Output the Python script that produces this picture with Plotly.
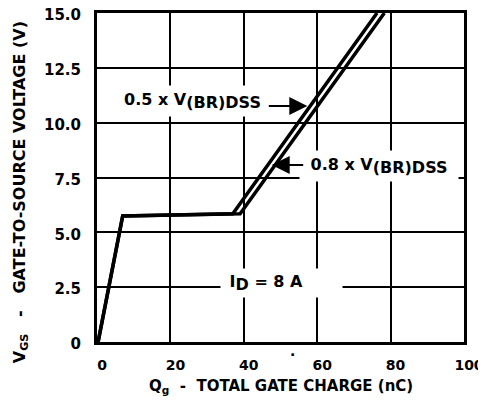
import plotly.graph_objects as go

# Data
q_05 = [0.3, 7.0, 37.0, 76.3]
v_05 = [0.0, 5.75, 5.85, 15.0]
q_08 = [0.3, 7.0, 39.0, 78.3]
v_08 = [0.0, 5.75, 5.85, 15.0]

x_ticks = [0, 20, 40, 60, 80, 100]
x_ticktext = ["0", "20", "40", "60", "80", "100"]
y_ticks = [0, 2.5, 5.0, 7.5, 10.0, 12.5, 15.0]
y_ticktext = ["0", "2.5", "5.0", "7.5", "10.0", "12.5", "15.0"]

FONT = "DejaVu Sans"

fig = go.Figure()
fig.add_trace(go.Scatter(x=q_08, y=v_08, mode="lines", name="0.8 x V(BR)DSS",
                         line=dict(color="black", width=3.5), showlegend=False))
fig.add_trace(go.Scatter(x=q_05, y=v_05, mode="lines", name="0.5 x V(BR)DSS",
                         line=dict(color="black", width=3.5), showlegend=False))

SUBF = "<span style='font-size:16px'>%s</span>"

annotations = [
    # 0.5 label text
    dict(x=26.1, y=11.0, xref="x", yref="y", showarrow=False,
         text="0.5 x V<sub>" + SUBF % "(BR)DSS" + "</sub>",
         font=dict(family=FONT, size=16, color="black", weight="bold"),
         bgcolor="white", borderpad=4, xanchor="center", yanchor="middle"),
    # 0.5 arrow
    dict(x=57.3, y=10.76, xref="x", yref="y", text="", showarrow=True,
         ax=-40, ay=0, arrowhead=2, arrowsize=1.8, arrowwidth=2, arrowcolor="black"),
    # 0.8 label text
    dict(x=76.9, y=8.03, xref="x", yref="y", showarrow=False,
         text="0.8 x V<sub>" + SUBF % "(BR)DSS" + "</sub>",
         font=dict(family=FONT, size=16, color="black", weight="bold"),
         bgcolor="white", borderpad=4, width=150, xanchor="center", yanchor="middle"),
    # 0.8 arrow
    dict(x=47.6, y=8.07, xref="x", yref="y", text="", showarrow=True,
         ax=33, ay=0, arrowhead=2, arrowsize=1.8, arrowwidth=2, arrowcolor="black"),
    # I_D label
    dict(x=50.3, y=2.71, xref="x", yref="y", showarrow=False,
         text="&nbsp;I<sub>" + SUBF % "D" + "</sub> = 8 A",
         font=dict(family=FONT, size=16, color="black", weight="bold"),
         bgcolor="white", borderpad=3, width=115, align="left",
         xanchor="center", yanchor="middle"),
    # x axis title
    dict(x=0.5, y=-0.134, xref="paper", yref="paper", showarrow=False,
         text="Q<sub>g</sub>  -  TOTAL GATE CHARGE (nC)",
         font=dict(family=FONT, size=15, color="black", weight="bold"),
         xanchor="center", yanchor="middle"),
    # y axis title
    dict(x=-0.21, y=0.455, xref="paper", yref="paper", showarrow=False,
         text="V<sub>GS</sub>   -   GATE-TO-SOURCE VOLTAGE (V)", textangle=-90,
         font=dict(family=FONT, size=16, color="black", weight="bold"),
         xanchor="center", yanchor="middle"),
    # scan dot between 40 and 60
    dict(x=53.3, y=-0.04, xref="x", yref="paper", showarrow=False, text="·",
         font=dict(family=FONT, size=14, color="black", weight="bold"),
         xanchor="center", yanchor="middle"),
]

# The page body has an 8px margin, so the figure is sized/offset to compensate.
fig.update_layout(
    width=478, height=389,
    margin=dict(l=89, r=22, t=5, b=55, autoexpand=False),
    paper_bgcolor="white", plot_bgcolor="white",
    annotations=annotations,
    xaxis=dict(range=[0, 100], tickvals=x_ticks, ticktext=x_ticktext,
               showgrid=True, gridcolor="black", gridwidth=1.5,
               showline=True, linecolor="black", linewidth=3, mirror=True,
               ticks="", zeroline=False, ticklabelstandoff=8, ticklabelshift=5,
               ticklabeloverflow="allow",
               tickfont=dict(family=FONT, size=14, color="black", weight="bold")),
    yaxis=dict(range=[0, 15], tickvals=y_ticks, ticktext=y_ticktext,
               showgrid=True, gridcolor="black", gridwidth=1.5,
               showline=True, linecolor="black", linewidth=3, mirror=True,
               ticks="", zeroline=False, ticklabelstandoff=10, ticklabelshift=2,
               ticklabeloverflow="allow",
               tickfont=dict(family=FONT, size=15, color="black", weight="bold")),
)

fig.write_html("out.html")
